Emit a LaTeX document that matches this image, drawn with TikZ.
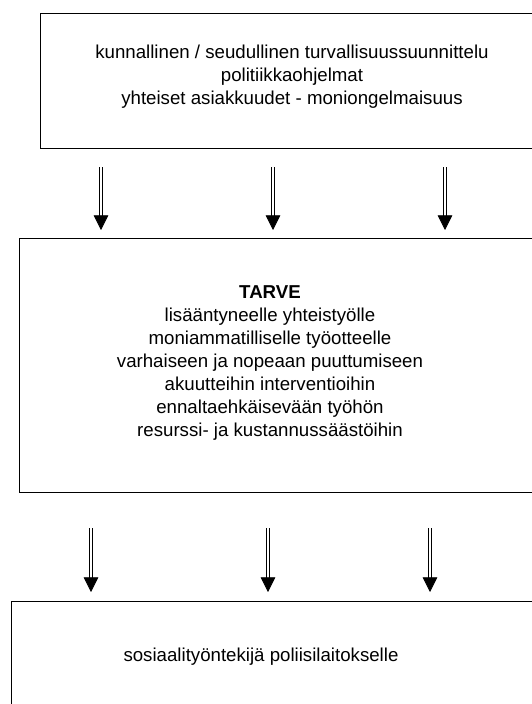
\documentclass[tikz,border=0pt]{standalone}
\usepackage{fontspec}
\setmainfont{Liberation Sans}
\usetikzlibrary{arrows.meta}
\tikzset{
  box/.style={draw, line width=0.9pt, anchor=north west, inner sep=0pt},
  txt/.style={align=center, font=\fontsize{14}{17.2}\selectfont},
  dblarrow/.style={double, double distance=1.8pt, line width=0.6pt, -{Triangle[length=11pt, width=11pt]}}
}
\begin{document}
\begin{tikzpicture}[x=0.75pt, y=-0.75pt, line join=miter]
	\clip (0,0) rectangle (532,704);
	% boxes
	\node[box, minimum width=390pt, minimum height=101.25pt] (plan) at (40,13) {};
	\node[box, minimum width=405.75pt, minimum height=190.5pt] (tarve) at (19,238) {};
	\node[box, minimum width=411.75pt, minimum height=104.25pt] (sosiaali) at (11,601) {};
	% texts
	\node[txt] (plantxt) at (292,77) {kunnallinen / seudullinen turvallisuussuunnittelu\\ politiikkaohjelmat\\ yhteiset asiakkuudet - moniongelmaisuus};
	\node[txt] (tarvetxt) at (270,363) {\textbf{TARVE}\\ lisääntyneelle yhteistyölle\\ moniammatilliselle työotteelle\\ varhaiseen ja nopeaan puuttumiseen\\ akuutteihin interventioihin\\ ennaltaehkäisevään työhön\\ resurssi- ja kustannussäästöihin};
	\node[txt] (sosiaalitxt) at (261,657) {sosiaalityöntekijä poliisilaitokselle};
	% arrows
	\foreach \x [count=\i] in {101,273,445} {
		\coordinate (a\i) at (\x,167);
		\coordinate (b\i) at (\x,230);
		\draw[dblarrow] (a\i) -- (b\i);
	}
	\foreach \x [count=\i] in {91,268,430} {
		\coordinate (c\i) at (\x,528);
		\coordinate (d\i) at (\x,592);
		\draw[dblarrow] (c\i) -- (d\i);
	}
\end{tikzpicture}
\end{document}
